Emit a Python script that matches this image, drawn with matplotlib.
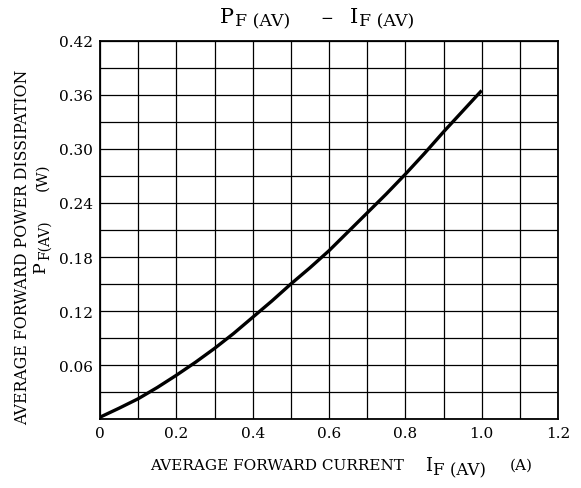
import matplotlib.pyplot as plt
import matplotlib.transforms as mtransforms
import numpy as np

plt.rcParams['font.family'] = ['DejaVu Serif']

# curve
current = [0.0, 0.05, 0.1, 0.15, 0.2, 0.25, 0.3, 0.35, 0.4, 0.45, 0.5,
           0.55, 0.6, 0.65, 0.7, 0.75, 0.8, 0.85, 0.9, 0.95, 1.0]
power = [0.002, 0.012, 0.0225, 0.035, 0.0486, 0.063, 0.0784, 0.095, 0.113, 0.131, 0.150,
         0.168, 0.187, 0.208, 0.229, 0.250, 0.272, 0.295, 0.319, 0.342, 0.365]

x_ticks = [0, 0.2, 0.4, 0.6, 0.8, 1.0, 1.2]
x_labels = ['0', '0.2', '0.4', '0.6', '0.8', '1.0', '1.2']
y_ticks = [0.06, 0.12, 0.18, 0.24, 0.30, 0.36, 0.42]
y_labels = ['0.06', '0.12', '0.18', '0.24', '0.30', '0.36', '0.42']

W, H = 581, 489
fig = plt.figure(figsize=(W / 100, H / 100), dpi=100)
ax = fig.add_axes([100 / W, 1 - 420 / H, 458 / W, 378 / H])

ax.plot(current, power, color='black', lw=2.4, solid_joinstyle='round',
        solid_capstyle='butt')

ax.set_xlim(0, 1.2)
ax.set_ylim(0, 0.42)
ax.set_xticks(np.arange(0, 1.21, 0.1), minor=True)
ax.set_yticks(np.arange(0, 0.421, 0.03), minor=True)
ax.set_xticks(x_ticks)
ax.set_xticklabels(x_labels, fontsize=11)
ax.set_yticks(y_ticks)
ax.set_yticklabels(y_labels, fontsize=11)
ax.tick_params(which='both', length=0, pad=5)
ax.grid(which='both', color='black', lw=0.9)
for s in ax.spines.values():
    s.set_linewidth(1.3)

pix = mtransforms.IdentityTransform()
kw = dict(ha='left', va='baseline', rotation_mode='anchor')


def put(text, x, y, size, rot=0):
    # x, y in image pixels (y from top)
    return fig.text(x, H - y, text, transform=pix, fontsize=size, rotation=rot, **kw)


def sub(text, prev, base, size, gap=0, rot=0):
    # text that follows prev; base = baseline position in image pixels
    if rot == 0:
        return ax.annotate(text, xy=(1, H - base), xycoords=(prev, 'figure pixels'),
                           xytext=(gap, 0), textcoords='offset pixels',
                           fontsize=size, **kw)
    return ax.annotate(text, xy=(base, 1), xycoords=('figure pixels', prev),
                       xytext=(0, gap), textcoords='offset pixels',
                       fontsize=size, rotation=rot, **kw)


# title  P_F(AV) - I_F(AV)
t = put('P', 220, 23, 15)
sub('F (AV)', t, 26, 12.5, gap=1)
put('−', 320, 23, 11)
t = put('I', 350, 23, 15)
sub('F (AV)', t, 26, 12.5, gap=1)

# x label
put('AVERAGE FORWARD CURRENT', 150, 470, 11)
t = put('I', 425, 471, 13)
sub('F (AV)', t, 475, 12, gap=1)
put('(A)', 510, 470, 11)

# y label
put('AVERAGE FORWARD POWER DISSIPATION', 27, 425, 11.3, rot=90)
t = put('P', 45, 273, 12.5, rot=90)
sub('F(AV)', t, 49, 10, gap=1, rot=90)
put('(W)', 46, 191, 11, rot=90)

fig.savefig('out.png', dpi=100)
